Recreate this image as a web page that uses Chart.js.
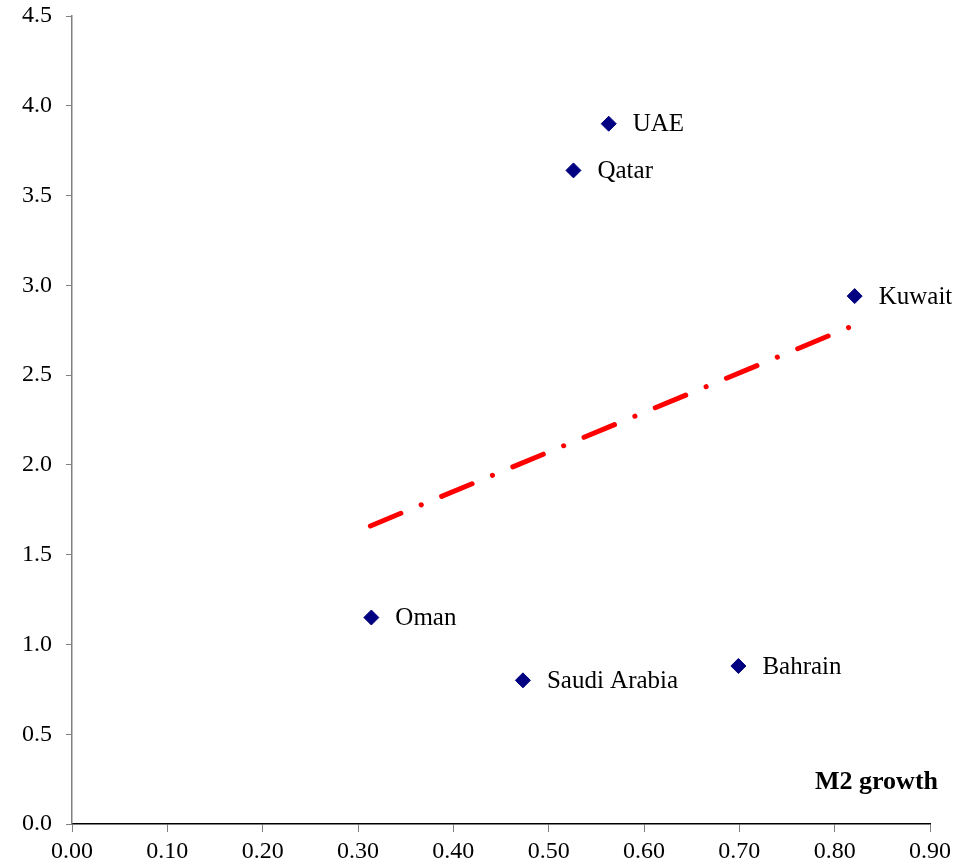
<!DOCTYPE html>
<html>
<head>
<meta charset="utf-8">
<script src="https://cdn.jsdelivr.net/npm/chart.js@4"></script>
<style>
  body { margin: 0; background: #fff; }
</style>
</head>
<body>
<canvas id="scatterChart" width="961" height="868"></canvas>
<script>
// Data
const countries = ["UAE", "Qatar", "Kuwait", "Oman", "Saudi Arabia", "Bahrain"];
const m2Growth = [0.563, 0.526, 0.821, 0.314, 0.473, 0.699];
const yValues = [3.90, 3.64, 2.94, 1.15, 0.80, 0.88];
const trendX = [0.313, 0.817];
const trendY = [1.66, 2.77];
const xTicks = [0, 0.9, 0.1];
const yTicks = [0, 4.5, 0.5];
const axisTitle = "M2 growth";

const serif = "'Liberation Serif', 'Times New Roman', serif";

// Writes the country name next to each diamond.
const pointLabels = {
    id: "pointLabels",
    afterDatasetsDraw(chart) {
        const ctx = chart.ctx;
        const meta = chart.getDatasetMeta(0);
        ctx.save();
        ctx.font = "25px " + serif;
        ctx.fillStyle = "#000";
        ctx.textBaseline = "middle";
        meta.data.forEach((pt, i) => {
            ctx.fillText(countries[i], pt.x + 24, pt.y + 1);
        });
        // x axis title, sitting just above the axis on the right
        ctx.font = "bold 26px " + serif;
        ctx.textAlign = "right";
        ctx.textBaseline = "alphabetic";
        ctx.fillText(axisTitle, chart.chartArea.right + 8, chart.chartArea.bottom - 35);
        ctx.restore();
    }
};

new Chart(document.getElementById("scatterChart"), {
    type: "scatter",
    data: {
        datasets: [{
            data: m2Growth.map((x, i) => ({ x: x, y: yValues[i] })),
            pointStyle: "rectRot",
            pointRadius: 7.5,
            backgroundColor: "#000080",
            borderColor: "#000080",
            borderWidth: 1
        }, {
            type: "line",
            data: trendX.map((x, i) => ({ x: x, y: trendY[i] })),
            borderColor: "#ff0000",
            borderWidth: 5,
            borderDash: [33, 22, 0.1, 22],
            borderCapStyle: "round",
            pointRadius: 0,
            fill: false
        }]
    },
    options: {
        responsive: false,
        animation: false,
        layout: { padding: { top: 16, right: 31, left: 0, bottom: 0 } },
        plugins: { legend: { display: false }, tooltip: { enabled: false } },
        scales: {
            x: {
                type: "linear",
                min: xTicks[0],
                max: xTicks[1],
                afterFit: (scale) => { scale.height = 44; },
                grid: { drawOnChartArea: false, tickLength: 8, tickColor: "#808080" },
                border: { color: "#000", width: 1.5 },
                ticks: {
                    stepSize: xTicks[2],
                    padding: 5,
                    color: "#000",
                    font: { family: serif, size: 24 },
                    callback: (v) => Number(v).toFixed(2)
                }
            },
            y: {
                type: "linear",
                min: yTicks[0],
                max: yTicks[1],
                afterFit: (scale) => {
                    scale.width = 72;
                    scale.paddingTop = 0;
                    scale.paddingBottom = 0;
                },
                grid: { drawOnChartArea: false, tickLength: 6, tickColor: "#808080" },
                border: { color: "#808080", width: 1.5 },
                ticks: {
                    stepSize: yTicks[2],
                    padding: 14,
                    color: "#000",
                    font: { family: serif, size: 24 },
                    callback: (v) => Number(v).toFixed(1)
                }
            }
        }
    },
    plugins: [pointLabels]
});
</script>
</body>
</html>
